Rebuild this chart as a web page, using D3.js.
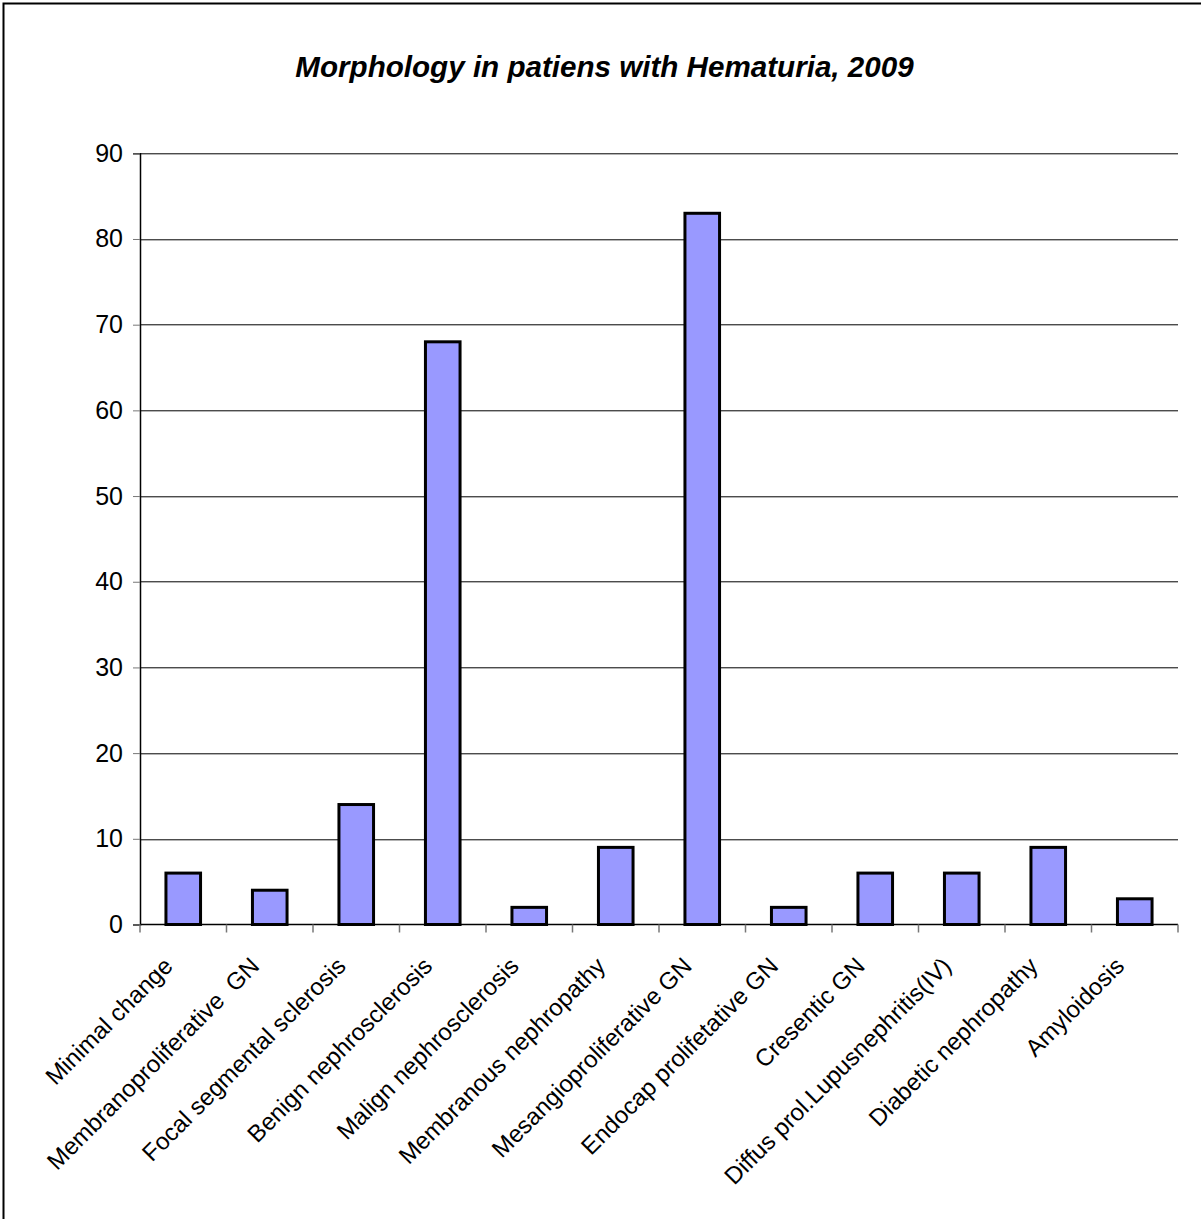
<!DOCTYPE html>
<html>
<head>
<meta charset="utf-8">
<script src="https://cdn.jsdelivr.net/npm/d3@7"></script>
<style>
  body { margin: 0; background: #fff; }
  text { font-family: "Liberation Sans", Arial, sans-serif; }
</style>
</head>
<body>
<div id="chart"></div>
<script>
// MORPHOLOGY BAR CHART
var categories = [
    "Minimal change",
    "Membranoproliferative  GN",
    "Focal segmental sclerosis",
    "Benign nephrosclerosis",
    "Malign nephrosclerosis",
    "Membranous nephropathy",
    "Mesangioproliferative GN",
    "Endocap prolifetative GN",
    "Cresentic GN",
    "Diffus prol.Lupusnephritis(IV)",
    "Diabetic nephropathy",
    "Amyloidosis"
];
var counts = [6, 4, 14, 68, 2, 9, 83, 2, 6, 6, 9, 3];
var yTicks = [0, 10, 20, 30, 40, 50, 60, 70, 80, 90];
var title = "Morphology in patiens with Hematuria, 2009";

var svgWidth = 1201,
    svgHeight = 1219,
    margin = {top: 153.3, right: 23, bottom: 294.5, left: 140},
    width = svgWidth - margin.left - margin.right,
    height = svgHeight - margin.top - margin.bottom;

var svg = d3.select("#chart").append("svg")
    .attr("width", svgWidth)
    .attr("height", svgHeight);

// chart frame (only top and left edges show in the picture)
svg.append("rect")
    .attr("x", 3.5)
    .attr("y", 3.5)
    .attr("width", svgWidth + 20)
    .attr("height", svgHeight + 20)
    .attr("fill", "none")
    .attr("stroke", "#000")
    .attr("stroke-width", 2);

svg.append("text")
    .attr("x", 604.5)
    .attr("y", 77)
    .attr("text-anchor", "middle")
    .style("font-size", "29.6px")
    .style("font-weight", "bold")
    .style("font-style", "italic")
    .text(title);

var g = svg.append("g")
    .attr("transform", "translate(" + margin.left + "," + margin.top + ")");

var x = d3.scaleBand()
    .domain(categories)
    .range([0, width]);

var y = d3.scaleLinear()
    .domain([0, 90])
    .range([height, 0]);

//gridlines
g.selectAll(".grid")
    .data(yTicks.filter((d) => d > 0))
    .enter().append("line")
    .attr("class", "grid")
    .attr("x1", 0)
    .attr("x2", width)
    .attr("y1", (d) => Math.round(y(d)) + 0.5)
    .attr("y2", (d) => Math.round(y(d)) + 0.5)
    .attr("stroke", "#000")
    .attr("stroke-width", 1);

// y axis
var yAxis = g.append("g")
    .call(d3.axisLeft(y).tickValues(yTicks).tickSize(7).tickPadding(10));
yAxis.select(".domain").attr("stroke", "#000").attr("stroke-width", 1.5);
yAxis.selectAll(".tick line").attr("stroke", "#777");
yAxis.selectAll(".tick text")
    .style("font-size", "25px")
    .attr("fill", "#000");

// x axis: ticks sit on the band edges, so draw them by hand from the scale
var xAxis = g.append("g")
    .attr("transform", "translate(0," + height + ")");
xAxis.append("line")
    .attr("x1", 0)
    .attr("x2", width)
    .attr("stroke", "#000")
    .attr("stroke-width", 1.5);
xAxis.selectAll(".xtick")
    .data(categories.concat(["__end"]))
    .enter().append("line")
    .attr("class", "xtick")
    .attr("x1", (d, i) => i < categories.length ? x(d) : width)
    .attr("x2", (d, i) => i < categories.length ? x(d) : width)
    .attr("y1", 0)
    .attr("y2", 8)
    .attr("stroke", "#777")
    .attr("stroke-width", 1.5);

xAxis.selectAll(".xlabel")
    .data(categories)
    .enter().append("text")
    .attr("class", "xlabel")
    .attr("text-anchor", "end")
    .attr("transform", (d) => "translate(" + (x(d) + x.bandwidth() / 2 - 9) + ",43) rotate(-45)")
    .style("font-size", "24px")
    .style("white-space", "pre")
    .attr("xml:space", "preserve")
    .text((d) => d);

// bars
var barWidth = x.bandwidth() / 2.5;
g.selectAll(".bar")
    .data(counts)
    .enter().append("rect")
    .attr("class", "bar")
    .attr("x", (d, i) => x(categories[i]) + (x.bandwidth() - barWidth) / 2)
    .attr("y", (d) => y(d))
    .attr("width", barWidth)
    .attr("height", (d) => height - y(d))
    .attr("fill", "#9999FF")
    .attr("stroke", "#000")
    .attr("stroke-width", 3);
</script>
</body>
</html>
